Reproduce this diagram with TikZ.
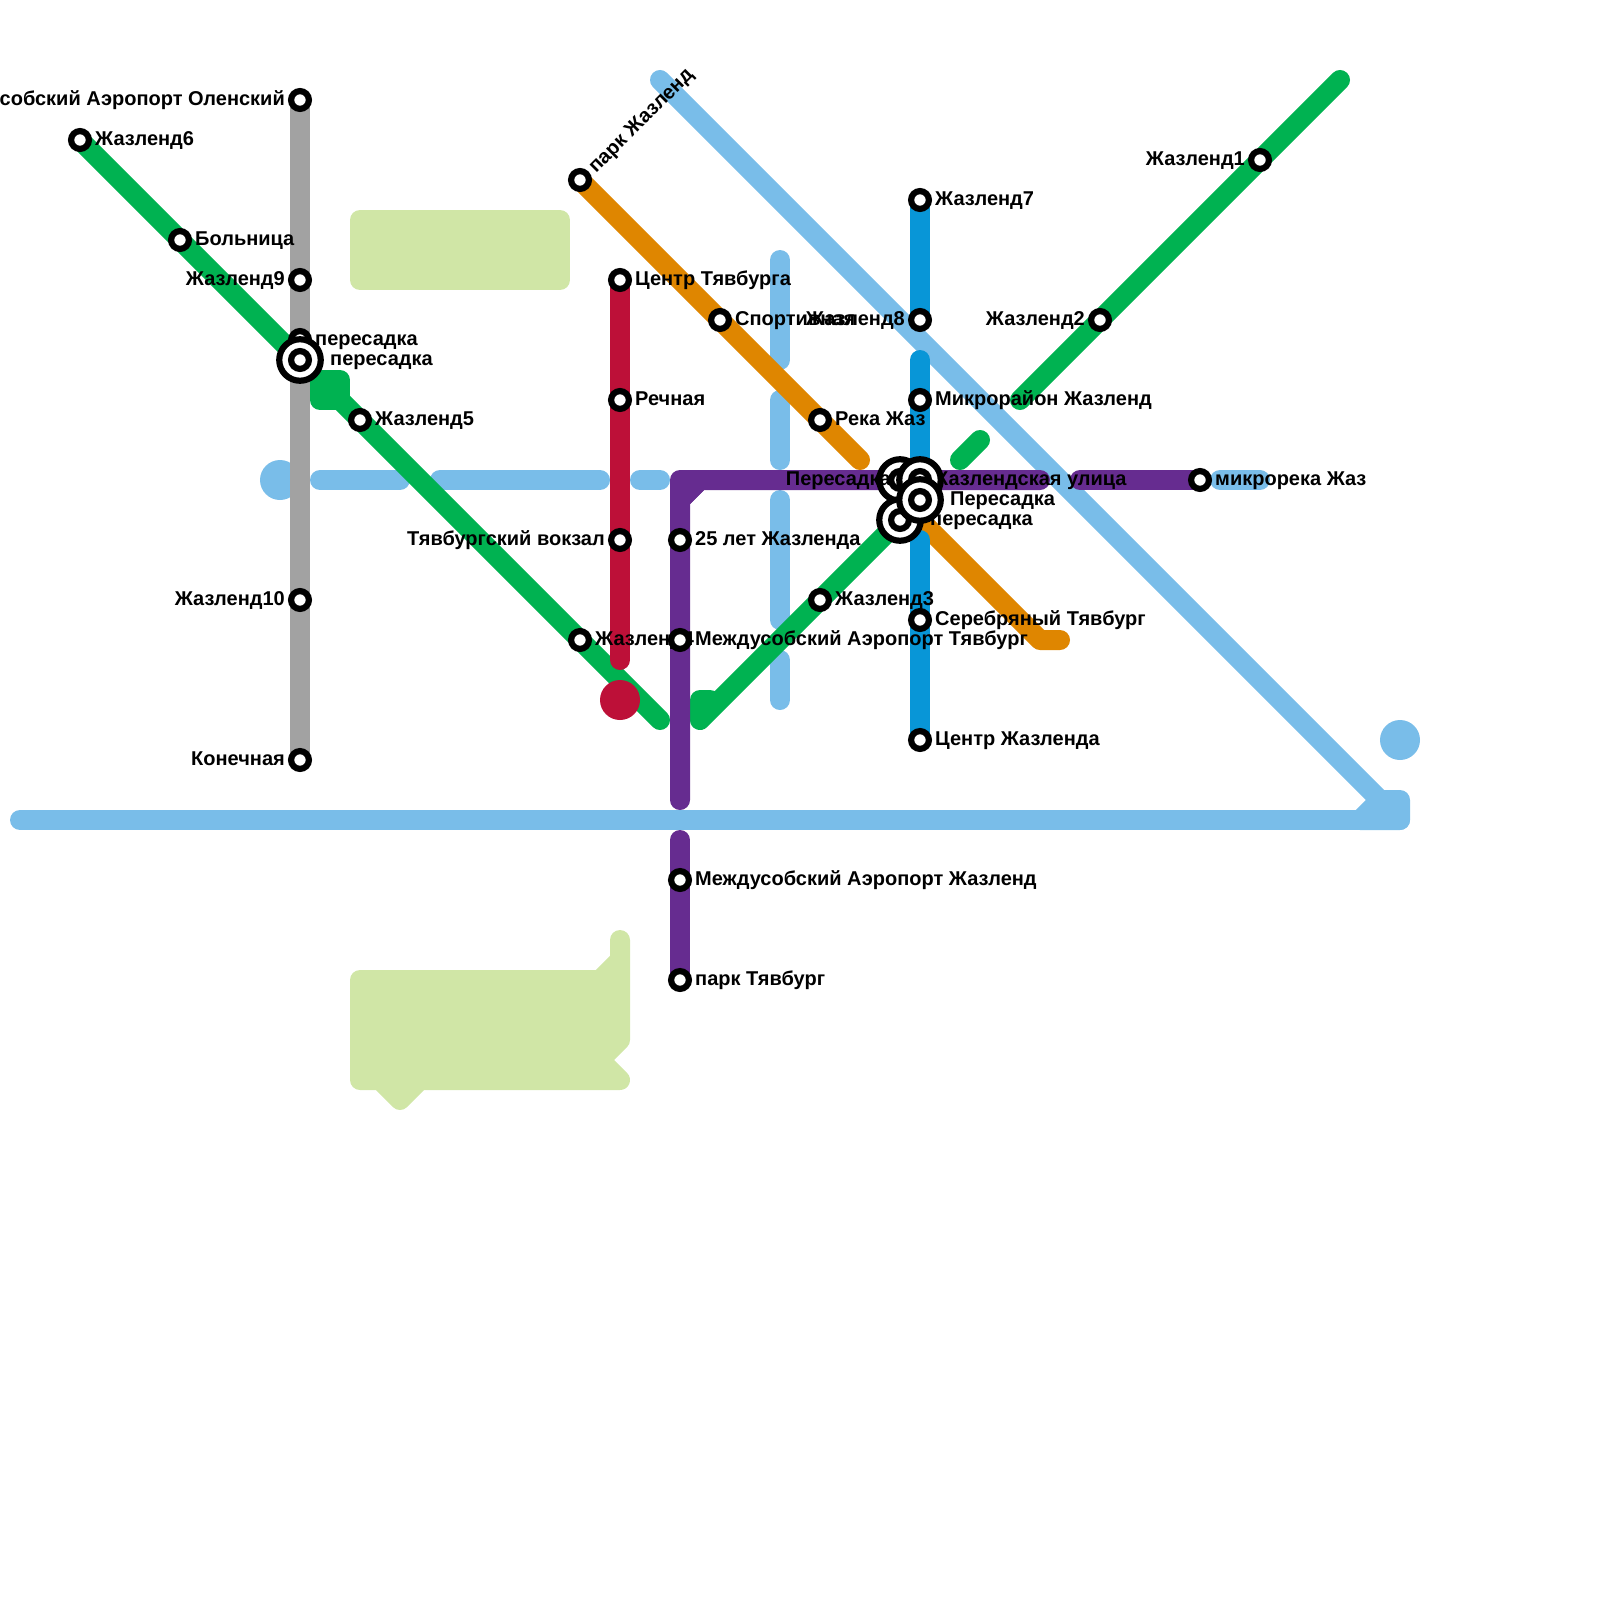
\documentclass[tikz,border=0pt]{standalone}
\usepackage{fontspec}
\setmainfont{Liberation Sans}
\pgfdeclarelayer{lines}
\pgfdeclarelayer{labels}
\pgfsetlayers{lines,labels,main}
\definecolor{cgreen}{HTML}{00B251}
\definecolor{cgray}{HTML}{A2A2A2}
\definecolor{corange}{HTML}{DF8600}
\definecolor{ccrim}{HTML}{BD1038}
\definecolor{cpurp}{HTML}{662C90}
\definecolor{cblue}{HTML}{0896D7}
\definecolor{cpale}{HTML}{79BDE9}
\definecolor{cpark}{HTML}{D0E6A6}
\tikzset{
  route/.style={line width=20pt,line cap=round,line join=round},
  pad/.style={route,draw=#1,fill=#1},
  blob/.style={circle,fill=#1,inner sep=0pt,minimum size=40pt},
  st/.style={circle,draw=black,fill=white,line width=6.2pt,inner sep=0pt,minimum size=17.8pt},
  big/.style={circle,draw=black,fill=white,line width=6.2pt,inner sep=0pt,minimum size=41.5pt},
  lr/.style={anchor=base west,inner sep=0pt,font=\fontsize{20pt}{22pt}\selectfont\bfseries,xshift=15pt,yshift=-5.5pt},
  ll/.style={anchor=base east,inner sep=0pt,font=\fontsize{20pt}{22pt}\selectfont\bfseries,xshift=-15pt,yshift=-5.5pt},
}
\begin{document}
\begin{tikzpicture}[x=1pt,y=-1pt]
\useasboundingbox (0,0) rectangle (1600,1600);
% free line ends
\foreach \n/\x/\y in {
 gA/660/720, gB/710/700, gC/700/700, gD/700/720, gE/1340/80, gF/1020/400, gG/960/460, gH/980/440,
 gI/320/380, gJ/340/380, gK/340/400, gL/320/400,
 oA/860/460, oB/920/520, oC/1040/640, oD/1060/640,
 bA/920/360, bB/920/540,
 pA/660/80, pB/1380/800, pC/1400/800, pD/1400/820, pE/20/820, pF/1360/820,
 hA/320/480, hB/400/480, hC/440/480, hD/600/480, hE/640/480, hF/660/480, hG/1220/480, hH/1260/480,
 vA/780/260, vB/780/360, vC/780/400, vD/780/460, vE/780/500, vF/780/620, vG/780/660, vH/780/700,
 uA/680/800, uB/680/480, uF/680/500, uG/700/480, uC/1040/480, uD/1080/480, uE/680/840,
 cA/620/660,
 aA/360/220, aB/560/220, aC/560/280, aD/360/280,
 eA/360/980, eB/600/980, eC/620/960, eD/620/940, eE/620/1040, eF/600/1060, eG/620/1080, eH/420/1080, eI/400/1100, eJ/380/1080, eK/360/1080}
 {\coordinate (\n) at (\x,\y);}
% stations
\node[st] (grA) at (300,100) {};
\node[st] (grB) at (300,280) {};
\node[st] (grC) at (300,340) {};
\node[big] (xA) at (300,360) {};
\node[st] (xAi) at (300,360) {};
\node[st] (grD) at (300,600) {};
\node[st] (grE) at (300,760) {};
\node[st] (lgA) at (80,140) {};
\node[st] (lgB) at (180,240) {};
\node[st] (lgC) at (360,420) {};
\node[st] (lgD) at (580,640) {};
\node[st] (rgA) at (1260,160) {};
\node[st] (rgB) at (1100,320) {};
\node[st] (rgC) at (820,600) {};
\node[st] (orA) at (580,180) {};
\node[st] (orB) at (720,320) {};
\node[st] (orC) at (820,420) {};
\node[st] (crA) at (620,280) {};
\node[st] (crB) at (620,400) {};
\node[st] (crC) at (620,540) {};
\node[st] (puA) at (680,540) {};
\node[st] (puB) at (680,640) {};
\node[st] (puC) at (680,880) {};
\node[st] (puD) at (680,980) {};
\node[st] (puE) at (1200,480) {};
\node[st] (blA) at (920,200) {};
\node[st] (blB) at (920,320) {};
\node[st] (blC) at (920,400) {};
\node[st] (blD) at (920,620) {};
\node[st] (blE) at (920,740) {};
\node[big] (xB) at (900,480) {};
\node[st] (xBi) at (900,480) {};
\node[ll,xshift=6pt] (uuD) at (xB) {Пересадка};
\node[big] (xC) at (900,520) {};
\node[st] (xCi) at (900,520) {};
\node[big] (xD) at (920,480) {};
\node[st] (xDi) at (920,480) {};
\node[big] (xE) at (920,500) {};
\node[st] (xEi) at (920,500) {};
% lines
\begin{pgfonlayer}{lines}
\draw[pad=cpark] (aA)--(aB)--(aC)--(aD)--cycle;
\draw[pad=cpark] (eA)--(eB)--(eC)--(eD)--(eE)--(eF)--(eG)--(eH)--(eI)--(eJ)--(eK)--cycle;
\node[blob=cpale] (bl1) at (280,480) {};
\node[blob=cpale] (bl2) at (1400,740) {};
\draw[route,cpale] (pE)--(pD);
\draw[pad=cpale] (pF)--(pB)--(pC)--(pD)--cycle;
\draw[route,cpale] (pA)--(pB);
\draw[route,cpale] (hA)--(hB);
\draw[route,cpale] (hC)--(hD);
\draw[route,cpale] (hE)--(hF);
\draw[route,cpale] (hG)--(hH);
\draw[route,cpale] (vA)--(vB);
\draw[route,cpale] (vC)--(vD);
\draw[route,cpale] (vE)--(vF);
\draw[route,cpale] (vG)--(vH);
\draw[route,cblue] (blA.center)--(blB.center);
\draw[route,cblue] (bA)--(xD.center);
\draw[route,corange] (orA.center)--(oA);
\draw[route,corange] (oB)--(oC)--(oD);
\draw[route,cblue] (bB)--(blE.center);
\draw[route,cgreen] (lgA.center)--(xA.center);
\draw[route,cgreen] (gK)--(gA);
\draw[pad=cgreen] (gI)--(gJ)--(gK)--(gL)--cycle;
\draw[route,cgreen] (gB)--(gC)--(gD)--(xC.center);
\draw[route,cgreen] (gE)--(gF);
\draw[route,cgreen] (gG)--(gH);
\draw[route,cgray] (grA.center)--(grE.center);
\draw[route,ccrim] (crA.center)--(cA);
\node[blob=ccrim] (bl3) at (620,700) {};
\draw[route,cpurp] (uA)--(uF)--(uG)--(uC);
\draw[pad=cpurp] (uF)--(uB)--(uG)--cycle;
\draw[route,cpurp] (uD)--(puE.center);
\draw[route,cpurp] (uE)--(puD.center);
\end{pgfonlayer}
% labels
\begin{pgfonlayer}{labels}
\node[ll] (tA) at (grA) {собский Аэропорт Оленский};
\node[ll] (tB) at (grB) {Жазленд9};
\node[lr] (tC) at (grC) {пересадка};
\node[lr,xshift=15pt] (tD) at (xA) {пересадка};
\node[ll] (tE) at (grD) {Жазленд10};
\node[ll] (tF) at (grE) {Конечная};
\node[lr] (tG) at (lgA) {Жазленд6};
\node[lr] (tH) at (lgB) {Больница};
\node[lr] (tI) at (lgC) {Жазленд5};
\node[lr] (tJ) at (lgD) {Жазленд4};
\node[ll] (tK) at (rgA) {Жазленд1};
\node[ll] (tL) at (rgB) {Жазленд2};
\node[lr] (tM) at (rgC) {Жазленд3};
\node[anchor=base west,inner sep=0pt,font=\fontsize{20pt}{22pt}\selectfont\bfseries,rotate=45] (tN) at (596,174) {парк Жазленд};
\node[lr] (tO) at (orB) {Спортивная};
\node[lr] (tP) at (orC) {Река Жаз};
\node[lr] (tQ) at (crA) {Центр Тявбурга};
\node[lr] (tR) at (crB) {Речная};
\node[ll] (tS) at (crC) {Тявбургский вокзал};
\node[lr] (tT) at (puA) {25 лет Жазленда};
\node[lr] (tU) at (puB) {Междусобский Аэропорт Тявбург};
\node[lr] (tV) at (puC) {Междусобский Аэропорт Жазленд};
\node[lr] (tW) at (puD) {парк Тявбург};
\node[lr] (tX) at (puE) {микрорека Жаз};
\node[lr] (tY) at (blA) {Жазленд7};
\node[ll] (tZ) at (blB) {Жазленд8};
\node[lr] (uuA) at (blC) {Микрорайон Жазленд};
\node[lr] (uuB) at (blD) {Серебряный Тявбург};
\node[lr] (uuC) at (blE) {Центр Жазленда};
\node[lr,xshift=15pt] (uuE) at (xC) {пересадка};
\node[lr,xshift=-5pt] (uuF) at (xD) {Жазлендская улица};
\node[lr,xshift=15pt] (uuG) at (xE) {Пересадка};
\end{pgfonlayer}
\end{tikzpicture}
\end{document}
